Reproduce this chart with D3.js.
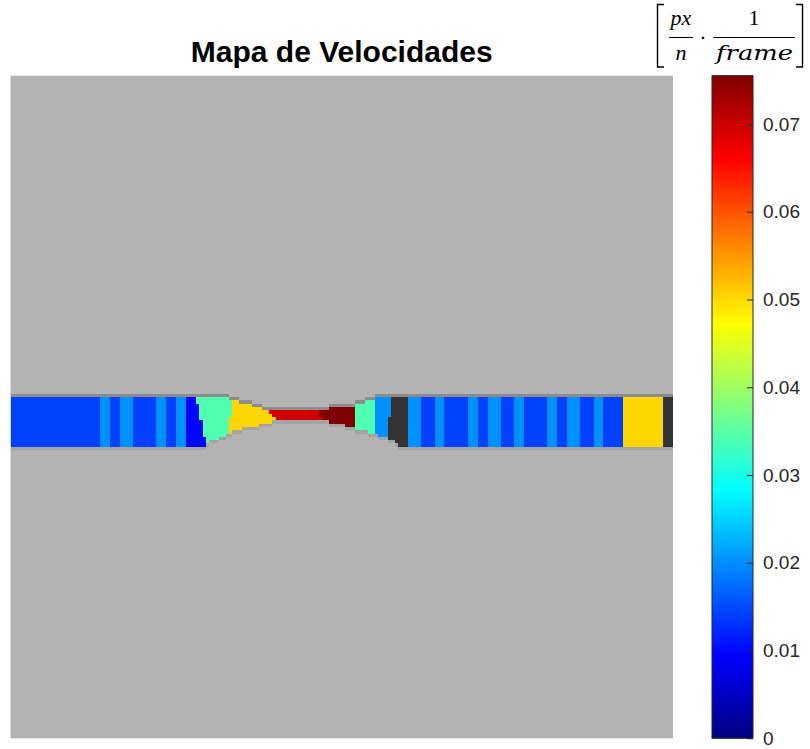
<!DOCTYPE html>
<html>
<head>
<meta charset="utf-8">
<script src="https://cdn.jsdelivr.net/npm/d3@7"></script>
<style>
  body { margin: 0; background: #ffffff; }
  svg { display: block; }
</style>
</head>
<body>
<svg id="chart" width="810" height="749"></svg>
<script>
// ---- Data (grid units: the map is 200 x 200 cells) ----
const gridCols = 200;
const gridRows = 200;

// Channel outline: [column, row] along the upper and lower walls
const channelTop = [[0, 97], [65, 97], [67, 98], [70, 98.7], [74, 99.7], [78, 101], [92, 101],
                    [100, 100], [104, 99.5], [108, 98], [111.5, 97], [200, 97]];
const channelBottom = [[0, 112], [58, 112], [60, 110.5], [64, 109], [66, 108], [69, 106.7],
                       [72.5, 106], [79, 104.5], [80, 104], [94, 104], [97, 104.7], [100.5, 105.3],
                       [104, 106.5], [108, 107.5], [110, 108.3], [115, 110], [117, 111.5], [119, 112], [200, 112]];

// Velocity bands along the channel: left boundary column at the upper / lower wall,
// and the measured speed in px/n per frame (null = no measurement)
const bandStartTop    = [0, 27, 30, 33, 37, 44, 47, 50, 53, 56, 67, 78, 92.5, 104, 110, 115,
                         120, 124, 128, 131, 138, 141, 144, 148, 152, 155, 162, 165, 168, 172, 176, 179, 185, 197];
const bandStartBottom = [0, 27, 30, 33, 37, 44, 47, 50, 53, 59, 66, 80, 94, 104, 110, 114,
                         120, 124, 128, 131, 138, 141, 144, 148, 152, 155, 162, 165, 168, 172, 176, 179, 185, 197];
const bandSpeed = [0.0142, 0.0201, 0.0142, 0.0201, 0.0142, 0.0201, 0.0142, 0.0201, 0.0098, 0.0342,
                   0.0502, 0.0695, 0.0755, 0.0342, 0.0201, null,
                   0.0201, 0.0142, 0.0201, 0.0142, 0.0201, 0.0142, 0.0201, 0.0142, 0.0201, 0.0142,
                   0.0201, 0.0142, 0.0201, 0.0142, 0.0201, 0.0142, 0.0502, null];

// Colour bar
const speedMax = 0.0755;
const barTicks = [0, 0.01, 0.02, 0.03, 0.04, 0.05, 0.06, 0.07];
const barTickLabels = ["0", "0.01", "0.02", "0.03", "0.04", "0.05", "0.06", "0.07"];

const titleText = "Mapa de Velocidades";

// ---- Layout ----
const mapLeft = 10.5, mapRight = 673, mapTop = 75.7, mapBottom = 738.3;
const barLeft = 712, barRight = 753;

const svg = d3.select("#chart");

const x = d3.scaleLinear().domain([0, gridCols]).range([mapLeft, mapRight]);
const y = d3.scaleLinear().domain([0, gridRows]).range([mapTop, mapBottom]);

// Jet colour map
function jet(t) {
  const c = v => Math.max(0, Math.min(1, v));
  const r = c(1.5 - Math.abs(4 * t - 3));
  const g = c(1.5 - Math.abs(4 * t - 2));
  const b = c(1.5 - Math.abs(4 * t - 1));
  return d3.rgb(r * 255, g * 255, b * 255).toString();
}
const speedColor = d3.scaleSequential(jet).domain([0, speedMax]);
const noData = "#333333";
const background = "#b3b3b3";
const upperWall = "#8c8c8c";
const lowerWall = "#a4a4a4";

// Wall rows as piecewise-linear functions of column
const topRow = d3.scaleLinear().domain(channelTop.map(d => d[0])).range(channelTop.map(d => d[1]));
const bottomRow = d3.scaleLinear().domain(channelBottom.map(d => d[0])).range(channelBottom.map(d => d[1]));

// Band boundary column at a given row: line through its points on the two walls
function boundaryCol(i, row) {
  const sT = bandStartTop[i], sB = bandStartBottom[i];
  if (sT === sB) return sT;
  const rT = topRow(sT), rB = bottomRow(sB);
  return sT + (sB - sT) * (row - rT) / (rB - rT);
}

// Build the cells of the map that differ from the background
const cells = [];
for (let c = 0; c < gridCols; c++) {
  const r0 = Math.round(topRow(c + 0.5));
  const r1 = Math.round(bottomRow(c + 0.5));
  cells.push({ c, r: r0 - 1, fill: upperWall });
  cells.push({ c, r: r1, fill: lowerWall });
  for (let r = r0; r < r1; r++) {
    let band = 0;
    for (let i = 1; i < bandStartTop.length; i++) {
      if (boundaryCol(i, r + 0.5) <= c + 0.5) band = i;
    }
    const v = bandSpeed[band];
    cells.push({ c, r, fill: v === null ? noData : speedColor(v) });
  }
}

// ---- Map ----
svg.append("rect")
  .attr("x", x(0)).attr("y", y(0))
  .attr("width", x(gridCols) - x(0)).attr("height", y(gridRows) - y(0))
  .attr("fill", background);

svg.append("g").attr("shape-rendering", "crispEdges")
  .selectAll("rect").data(cells).join("rect")
  .attr("x", d => x(d.c)).attr("y", d => y(d.r))
  .attr("width", d => x(d.c + 1) - x(d.c))
  .attr("height", d => y(d.r + 1) - y(d.r))
  .attr("fill", d => d.fill);

// ---- Title ----
svg.append("text")
  .attr("x", (mapLeft + mapRight) / 2).attr("y", 62)
  .attr("text-anchor", "middle")
  .attr("font-family", "Liberation Sans, Arial, Helvetica, sans-serif")
  .attr("font-weight", "bold").attr("font-size", 30)
  .attr("fill", "#000")
  .text(titleText);

// ---- Colour bar ----
const defs = svg.append("defs");
const barY = d3.scaleLinear().domain([0, speedMax]).range([mapBottom, mapTop]);
const grad = defs.append("linearGradient").attr("id", "jet-grad")
  .attr("x1", 0).attr("y1", 1).attr("x2", 0).attr("y2", 0);
d3.range(0, 1.0001, 0.0625).forEach(t => {
  grad.append("stop").attr("offset", t).attr("stop-color", speedColor(t * speedMax));
});
svg.append("rect")
  .attr("x", barLeft).attr("y", barY(speedMax))
  .attr("width", barRight - barLeft).attr("height", barY(0) - barY(speedMax))
  .attr("fill", "url(#jet-grad)")
  .attr("stroke", "#262626").attr("stroke-width", 1);

const barAxis = d3.axisRight(barY)
  .tickValues(barTicks)
  .tickFormat((d, i) => barTickLabels[i])
  .tickSizeInner(-6).tickSizeOuter(0).tickPadding(10);
const axG = svg.append("g").attr("transform", `translate(${barRight},0)`).call(barAxis);
axG.select(".domain").remove();
axG.selectAll(".tick line").attr("stroke", "#262626");
axG.selectAll(".tick text")
  .attr("font-family", "Liberation Sans, Arial, Helvetica, sans-serif")
  .attr("font-size", 19).attr("fill", "#262626");

// ---- Unit label: [ px/n · 1/frame ] ----
const unit = svg.append("g")
  .attr("font-family", "Liberation Serif, Times New Roman, serif")
  .attr("fill", "#000");
// tall square brackets around the unit
unit.append("path")
  .attr("d", "M664,4.5 H657.5 V67 H664 M796,4.5 H802.5 V67 H796")
  .attr("fill", "none").attr("stroke", "#000").attr("stroke-width", 1.4);
unit.append("text").attr("x", 681).attr("y", 25).attr("text-anchor", "middle")
  .attr("font-style", "italic").attr("font-size", 22).text("px");
unit.append("line").attr("x1", 669).attr("x2", 693).attr("y1", 37.5).attr("y2", 37.5)
  .attr("stroke", "#000").attr("stroke-width", 1.1);
unit.append("text").attr("x", 681).attr("y", 60).attr("text-anchor", "middle")
  .attr("font-style", "italic").attr("font-size", 22).text("n");
unit.append("text").attr("x", 703).attr("y", 45).attr("text-anchor", "middle")
  .attr("font-size", 22).text("·");
unit.append("text").attr("x", 754).attr("y", 25).attr("text-anchor", "middle")
  .attr("font-size", 22).text("1");
unit.append("line").attr("x1", 713).attr("x2", 795).attr("y1", 37.5).attr("y2", 37.5)
  .attr("stroke", "#000").attr("stroke-width", 1.1);
unit.append("text").attr("x", 716).attr("y", 60)
  .attr("font-family", "DejaVu Serif, serif")
  .attr("font-style", "italic").attr("font-size", 21)
  .attr("textLength", 77).attr("lengthAdjust", "spacingAndGlyphs").text("frame");
</script>
</body>
</html>
